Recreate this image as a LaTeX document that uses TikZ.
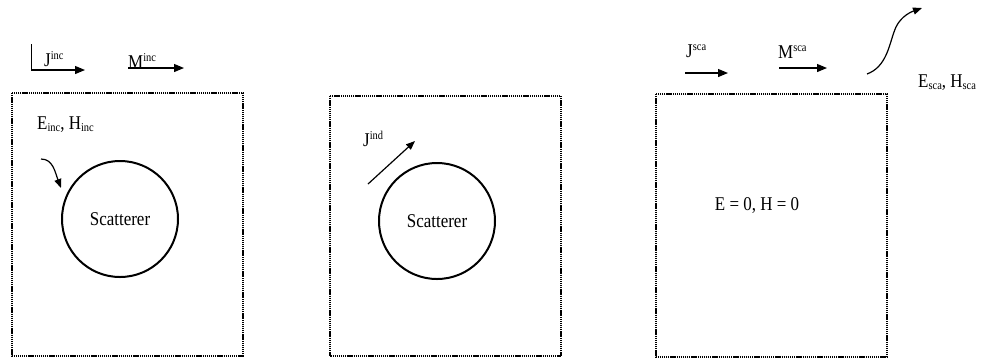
\documentclass[tikz,border=0pt]{standalone}
\usepackage{fontspec}
\setmainfont[FakeStretch=0.87]{Liberation Serif}
\usetikzlibrary{arrows.meta}
% raised / lowered small labels for the field and current names
\newcommand\suplbl[1]{\raisebox{6.5pt}{\fontsize{12}{12}\selectfont #1}}
\newcommand\sublbl[1]{\raisebox{-2pt}{\fontsize{12}{12}\selectfont #1}}
\begin{document}
\begin{tikzpicture}[x=1pt,y=-1pt,
  box/.style={draw, line width=1.6pt, dash pattern=on 1.3pt off 0.8pt},
  scat/.style={circle, draw, line width=2pt, minimum size=116pt, inner sep=0pt,
    font=\fontsize{19.5}{22}\selectfont},
  vec/.style={line width=1.2pt, -{Triangle[length=10pt,width=8pt]}},
  vecs/.style={line width=1.2pt, -{Triangle[length=9pt,width=7pt]}},
  lab/.style={inner sep=0pt, anchor=base west, font=\fontsize{19.5}{22}\selectfont}]
\useasboundingbox (0,0) rectangle (983,360);

% the three regions
\draw[box] (12,93) rectangle (243,356);
\draw[box] (330,96) rectangle (561,356);
\draw[box] (656,94) rectangle (887,357);

% scatterers
\node[scat] (s1) at (120,219) {Scatterer};
\node[scat] (s2) at (437,221) {Scatterer};
\node[lab, anchor=base] (e0) at (757,210) {E = 0, H = 0};

% incident sources
\coordinate (ja) at (31,44);
\coordinate (jb) at (31,70);
\coordinate (jc) at (85,70);
\draw[line width=0.9pt] (ja) -- (jb);
\draw[vec] (jb) -- (jc);
\node[lab] (jinc) at (44,66) {J\suplbl{inc}};
\coordinate (ma) at (128,68);
\coordinate (mb) at (184,68);
\draw[vec] (ma) -- (mb);
\node[lab] (minc) at (128,68) {M\suplbl{inc}};

% incident field
\node[lab] (einc) at (37,129) {E\sublbl{inc}, H\sublbl{inc}};
\coordinate (ca) at (41,159);
\coordinate (cb) at (61,188);
\draw[vecs] (ca) .. controls (53,159) and (55,172) .. (cb);

% induced current
\node[lab] (jind) at (363,146) {J\suplbl{ind}};
\coordinate (ia) at (368,184);
\coordinate (ib) at (415,141);
\draw[vecs] (ia) -- (ib);

% scattered sources and field
\node[lab] (jsca) at (686,57) {J\suplbl{sca}};
\coordinate (ka) at (685,73);
\coordinate (kb) at (728,73);
\draw[vec] (ka) -- (kb);
\node[lab] (msca) at (778,58) {M\suplbl{sca}};
\coordinate (na) at (779,68);
\coordinate (nb) at (827,68);
\draw[vec] (na) -- (nb);
\coordinate (wa) at (867,74);
\coordinate (wm) at (894,32);
\coordinate (wb) at (922,8);
\draw[vecs] (wa) .. controls (886,67) and (889,46) .. (wm) .. controls (898,19) and (908,13) .. (wb);
\node[lab] (esca) at (918,87) {E\sublbl{sca}, H\sublbl{sca}};
\end{tikzpicture}
\end{document}
